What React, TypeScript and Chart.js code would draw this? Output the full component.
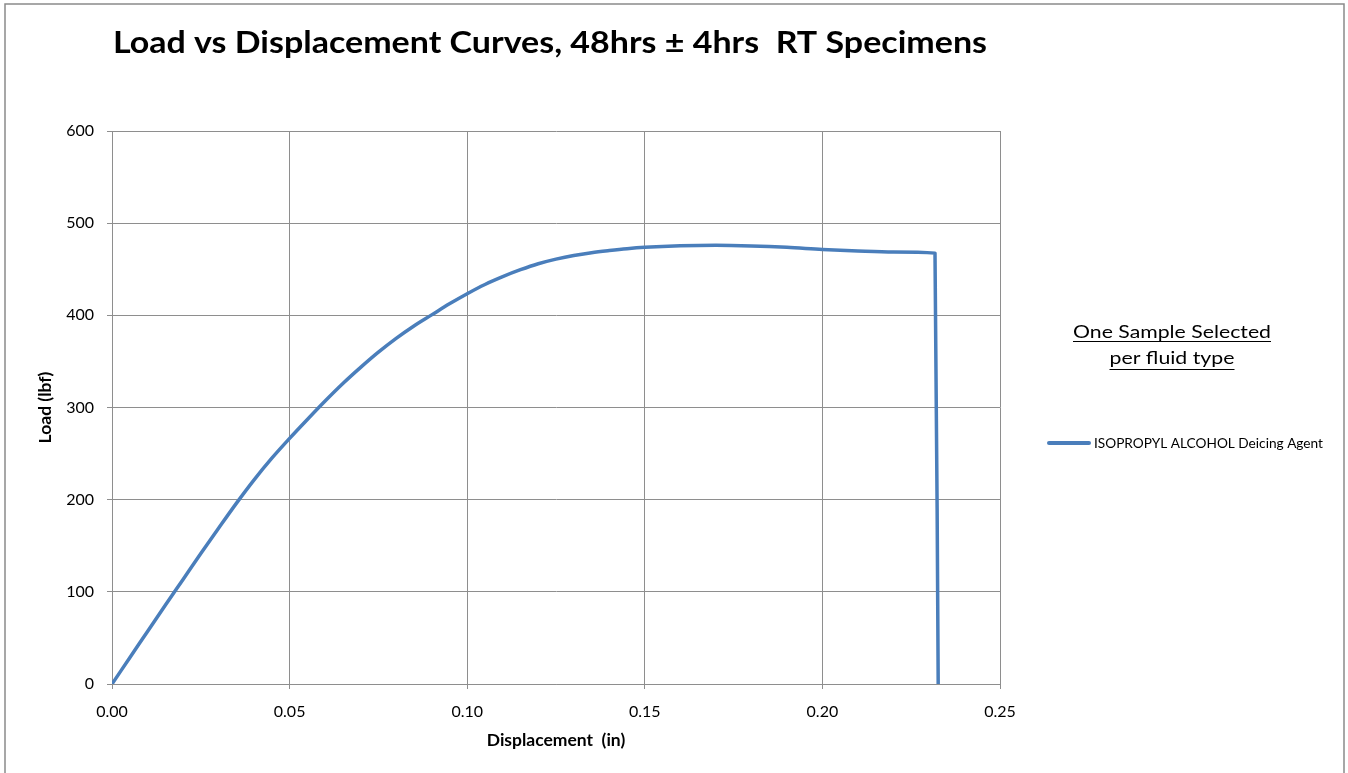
import React, { useEffect, useRef } from "react";
import { Chart, registerables } from "chart.js";

Chart.register(...registerables);

const TITLE = "Load vs Displacement Curves, 48hrs \u00B1 4hrs  RT Specimens";
const X_TITLE = "Displacement  (in)";
const Y_TITLE = "Load (lbf)";
const LEGEND_HEADING = ["One Sample Selected", "per fluid type"];
const SERIES_NAME = "ISOPROPYL ALCOHOL Deicing Agent";

const displacement = [
  0, 0.005, 0.01, 0.015, 0.02, 0.025, 0.03, 0.035, 0.04, 0.045, 0.05, 0.055,
  0.06, 0.065, 0.07, 0.075, 0.08, 0.085, 0.09, 0.095, 0.1, 0.105, 0.11, 0.115,
  0.12, 0.125, 0.13, 0.135, 0.14, 0.145, 0.15, 0.16, 0.17, 0.18, 0.19, 0.2,
  0.21, 0.22, 0.2317, 0.2326,
];
const load = [
  0, 28.5, 57, 85.5, 113.5, 141.5, 169, 196, 221.5, 245, 266.5, 287, 307, 326,
  343.5, 360, 375, 388.5, 400.5, 412.5, 423.5, 433.5, 442, 449.5, 456, 461,
  465, 468, 470.3, 472.3, 473.8, 475.5, 476, 475.3, 473.8, 471.5, 469.8, 468.7,
  467.5, 0,
];

const X_MIN = 0;
const X_MAX = 0.25;
const X_STEP = 0.05;
const Y_MIN = 0;
const Y_MAX = 600;
const Y_STEP = 100;

const LINE_COLOR = "#4a7ebb";
const GRID_COLOR = "#8e8e8e";
const FONT = "Lato, 'Open Sans', sans-serif";

function drawFitted(
  ctx: CanvasRenderingContext2D,
  text: string,
  x: number,
  y: number,
  width: number,
  align: "left" | "center" = "left"
) {
  const w = ctx.measureText(text).width;
  const sx = width / w;
  ctx.save();
  const startX = align === "center" ? x - width / 2 : x;
  ctx.translate(startX, y);
  ctx.scale(sx, 1);
  ctx.textAlign = "left";
  ctx.fillText(text, 0, 0);
  ctx.restore();
}

const decorPlugin = {
  id: "decor",
  beforeDraw(chart: any) {
    const ctx = chart.ctx as CanvasRenderingContext2D;
    ctx.save();
    ctx.fillStyle = "#ffffff";
    ctx.fillRect(0, 0, chart.width, chart.height);
    ctx.strokeStyle = "#8a8a8a";
    ctx.lineWidth = 1.5;
    ctx.strokeRect(5, 4, 1339, chart.height + 20);
    ctx.restore();
  },
  afterDraw(chart: any) {
    const ctx = chart.ctx as CanvasRenderingContext2D;
    ctx.save();
    ctx.fillStyle = "#000000";
    ctx.textBaseline = "alphabetic";
    // Title
    ctx.font = `bold 30px ${FONT}`;
    drawFitted(ctx, TITLE, 113, 53, 874);

    // Legend heading (underlined)
    ctx.font = `18px ${FONT}`;
    const headW = [198, 125];
    const headY = [338, 364];
    const cx = 1172;
    LEGEND_HEADING.forEach((t, i) => {
      drawFitted(ctx, t, cx, headY[i], headW[i], "center");
      ctx.strokeStyle = "#000000";
      ctx.lineWidth = 1;
      ctx.beginPath();
      const uy = headY[i] + (i === 0 ? 3.5 : 5.5);
      ctx.moveTo(cx - headW[i] / 2, uy);
      ctx.lineTo(cx + headW[i] / 2, uy);
      ctx.stroke();
    });

    // Legend entry
    const ds = chart.data.datasets[0];
    ctx.strokeStyle = ds.borderColor;
    ctx.lineWidth = 4;
    ctx.lineCap = "round";
    ctx.beginPath();
    ctx.moveTo(1049, 443);
    ctx.lineTo(1089, 443);
    ctx.stroke();
    ctx.font = `13px ${FONT}`;
    ctx.textBaseline = "middle";
    drawFitted(ctx, ds.label, 1094, 444, 229);
    ctx.restore();
  },
};

export default function App() {
  const canvasRef = useRef<HTMLCanvasElement | null>(null);

  useEffect(() => {
    document.body.style.margin = "0";
    const canvas = canvasRef.current;
    if (!canvas) return;
    const points = displacement.map((x, i) => ({ x, y: load[i] }));
    const chart = new Chart(canvas, {
      type: "line",
      data: {
        datasets: [
          {
            label: SERIES_NAME,
            data: points,
            borderColor: LINE_COLOR,
            backgroundColor: LINE_COLOR,
            borderWidth: 3.5,
            pointRadius: 0,
            cubicInterpolationMode: "monotone",
            borderJoinStyle: "round",
            fill: false,
          },
        ],
      },
      options: {
        responsive: false,
        animation: false,
        layout: { padding: { left: 28, right: 348, top: 131, bottom: 0 } },
        plugins: {
          legend: { display: false },
          title: { display: false },
          tooltip: { enabled: false },
        },
        scales: {
          x: {
            type: "linear",
            min: X_MIN,
            max: X_MAX,
            afterFit: (scale: any) => {
              scale.height = 89;
            },
            ticks: {
              stepSize: X_STEP,
              color: "#000000",
              font: { family: FONT, size: 16 },
              padding: 13,
              maxRotation: 0,
              callback: (v: any) => Number(v).toFixed(2),
            },
            grid: {
              color: GRID_COLOR,
              lineWidth: 1,
              tickLength: 5,
              drawTicks: true,
            },
            border: { color: GRID_COLOR, width: 1 },
            title: {
              display: true,
              text: X_TITLE,
              color: "#000000",
              font: { family: FONT, size: 17.5, weight: "bold" },
              padding: { top: 0, bottom: 22 },
            },
          },
          y: {
            type: "linear",
            min: Y_MIN,
            max: Y_MAX,
            afterFit: (scale: any) => {
              scale.width = 84;
            },
            ticks: {
              stepSize: Y_STEP,
              color: "#000000",
              font: { family: FONT, size: 16 },
              padding: 13,
            },
            grid: {
              color: GRID_COLOR,
              lineWidth: 1,
              tickLength: 5,
              drawTicks: true,
            },
            border: { color: GRID_COLOR, width: 1 },
            title: {
              display: true,
              text: Y_TITLE,
              color: "#000000",
              font: { family: FONT, size: 17.5, weight: "bold" },
              padding: { top: 7, bottom: 0 },
            },
          },
        },
      },
      plugins: [decorPlugin],
    } as any);
    return () => chart.destroy();
  }, []);

  return (
    <div style={{ width: 1348, height: 773, position: "relative" }}>
      <canvas ref={canvasRef} width={1348} height={773} />
    </div>
  );
}
